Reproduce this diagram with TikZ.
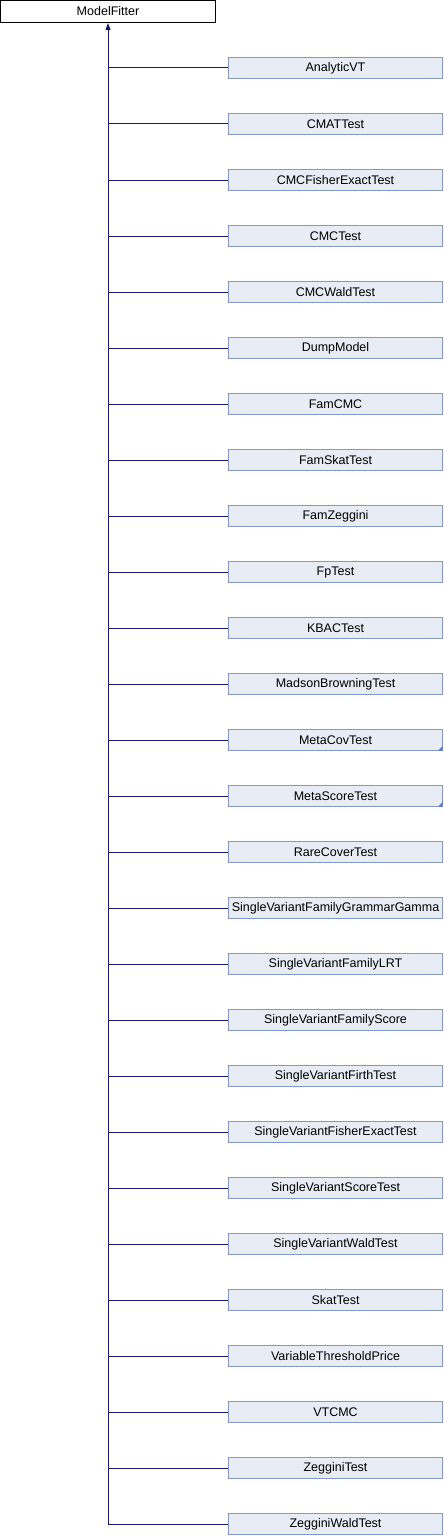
\documentclass[tikz,border=0pt]{standalone}
\usepackage{fontspec}
\setmainfont{Liberation Sans}
\usetikzlibrary{arrows.meta}
\definecolor{boxfill}{HTML}{E8ECF5}
\definecolor{boxline}{HTML}{8497C7}
\definecolor{linkline}{HTML}{191970}
\definecolor{cornerblue}{HTML}{5A7BD2}
\begin{document}
\begin{tikzpicture}[x=1pt,y=-1pt,
    base/.style={draw=black,fill=white,line width=1pt,minimum width=215pt,minimum height=22pt,inner sep=0pt,font=\fontsize{12.5}{14}\selectfont},
    child/.style={draw=boxline,fill=boxfill,line width=1pt,minimum width=214pt,minimum height=21pt,inner sep=0pt,font=\fontsize{12.5}{14}\selectfont},
    link/.style={draw=linkline,line width=1pt}]

  \useasboundingbox (0,0) rectangle (444,1536);

  \node[base] (fitter) at (108,11.5) {ModelFitter};

  \begin{scope}[every node/.style={child}]
    \node (avt)   at (335.5,68)   {AnalyticVT};
    \node (cmat)  at (335.5,124)  {CMATTest};
    \node (cfet)  at (335.5,180)  {CMCFisherExactTest};
    \node (cmc)   at (335.5,236)  {CMCTest};
    \node (cwald) at (335.5,292)  {CMCWaldTest};
    \node (dump)  at (335.5,348)  {DumpModel};
    \node (fcmc)  at (335.5,404)  {FamCMC};
    \node (fskat) at (335.5,460)  {FamSkatTest};
    \node (fzeg)  at (335.5,516)  {FamZeggini};
    \node (fp)    at (335.5,572)  {FpTest};
    \node (kbac)  at (335.5,628)  {KBACTest};
    \node (mbt)   at (335.5,684)  {MadsonBrowningTest};
    \node (mcov)  at (335.5,740)  {MetaCovTest};
    \node (mscore) at (335.5,796) {MetaScoreTest};
    \node (rare)  at (335.5,852)  {RareCoverTest};
    \node (svfgg) at (335.5,908)  {SingleVariantFamilyGrammarGamma};
    \node (svflrt) at (335.5,964) {SingleVariantFamilyLRT};
    \node (svfs)  at (335.5,1020) {SingleVariantFamilyScore};
    \node (svft)  at (335.5,1076) {SingleVariantFirthTest};
    \node (svfet) at (335.5,1132) {SingleVariantFisherExactTest};
    \node (svst)  at (335.5,1188) {SingleVariantScoreTest};
    \node (svwt)  at (335.5,1244) {SingleVariantWaldTest};
    \node (skat)  at (335.5,1300) {SkatTest};
    \node (vtp)   at (335.5,1356) {VariableThresholdPrice};
    \node (vtcmc) at (335.5,1412) {VTCMC};
    \node (zeg)   at (335.5,1468) {ZegginiTest};
    \node (zwald) at (335.5,1524) {ZegginiWaldTest};
  \end{scope}

  % partially shown classes
  \fill[cornerblue] ([xshift=-5pt,yshift=0.5pt]mcov.south east) -- ([xshift=-0.5pt,yshift=0.5pt]mcov.south east) -- ([xshift=-0.5pt,yshift=5pt]mcov.south east) -- cycle;
  \fill[cornerblue] ([xshift=-5pt,yshift=0.5pt]mscore.south east) -- ([xshift=-0.5pt,yshift=0.5pt]mscore.south east) -- ([xshift=-0.5pt,yshift=5pt]mscore.south east) -- cycle;

  \begin{scope}[every path/.style={link}]
    \path[draw,-{Triangle[width=5pt,length=7pt]}] (zwald.west) -| (fitter.south);
    \path[draw] (avt.west)    -- (avt.west -| fitter.south);
    \path[draw] (cmat.west)   -- (cmat.west -| fitter.south);
    \path[draw] (cfet.west)   -- (cfet.west -| fitter.south);
    \path[draw] (cmc.west)    -- (cmc.west -| fitter.south);
    \path[draw] (cwald.west)  -- (cwald.west -| fitter.south);
    \path[draw] (dump.west)   -- (dump.west -| fitter.south);
    \path[draw] (fcmc.west)   -- (fcmc.west -| fitter.south);
    \path[draw] (fskat.west)  -- (fskat.west -| fitter.south);
    \path[draw] (fzeg.west)   -- (fzeg.west -| fitter.south);
    \path[draw] (fp.west)     -- (fp.west -| fitter.south);
    \path[draw] (kbac.west)   -- (kbac.west -| fitter.south);
    \path[draw] (mbt.west)    -- (mbt.west -| fitter.south);
    \path[draw] (mcov.west)   -- (mcov.west -| fitter.south);
    \path[draw] (mscore.west) -- (mscore.west -| fitter.south);
    \path[draw] (rare.west)   -- (rare.west -| fitter.south);
    \path[draw] (svfgg.west)  -- (svfgg.west -| fitter.south);
    \path[draw] (svflrt.west) -- (svflrt.west -| fitter.south);
    \path[draw] (svfs.west)   -- (svfs.west -| fitter.south);
    \path[draw] (svft.west)   -- (svft.west -| fitter.south);
    \path[draw] (svfet.west)  -- (svfet.west -| fitter.south);
    \path[draw] (svst.west)   -- (svst.west -| fitter.south);
    \path[draw] (svwt.west)   -- (svwt.west -| fitter.south);
    \path[draw] (skat.west)   -- (skat.west -| fitter.south);
    \path[draw] (vtp.west)    -- (vtp.west -| fitter.south);
    \path[draw] (vtcmc.west)  -- (vtcmc.west -| fitter.south);
    \path[draw] (zeg.west)    -- (zeg.west -| fitter.south);
  \end{scope}

\end{tikzpicture}
\end{document}
